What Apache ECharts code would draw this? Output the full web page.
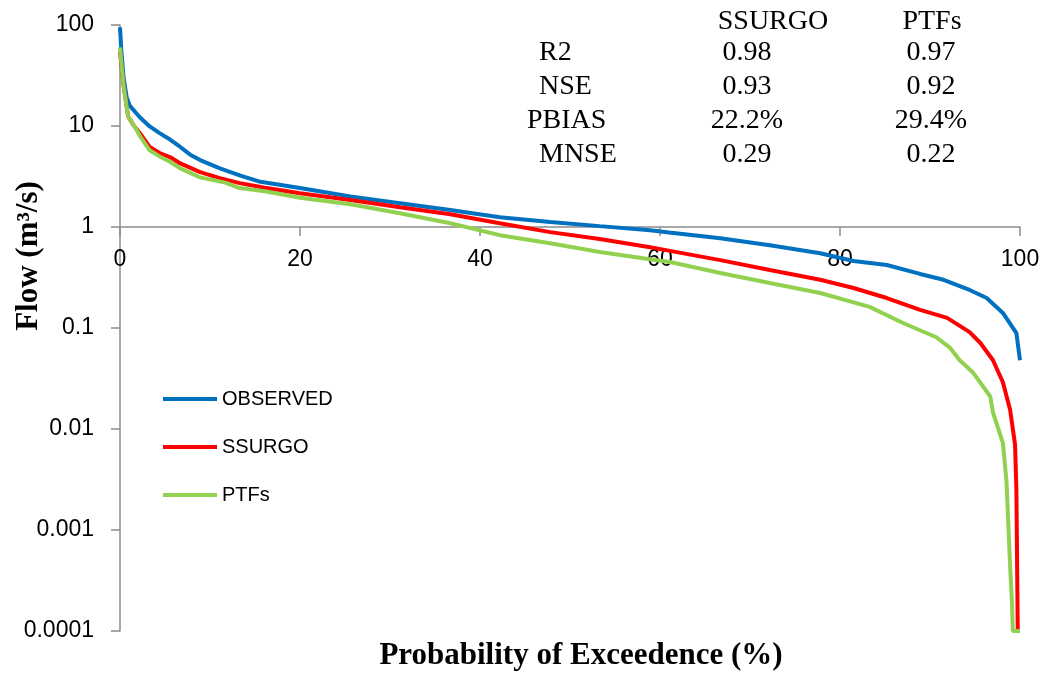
<!DOCTYPE html>
<html>
<head>
<meta charset="utf-8">
<title>Flow duration curves</title>
<script src="https://cdn.jsdelivr.net/npm/echarts@6/dist/echarts.min.js"></script>
<style>
  html, body { margin: 0; padding: 0; background: #ffffff; }
  #chart { width: 1045px; height: 681px; }
</style>
</head>
<body>
<div id="chart"></div>
<script>
// Flow duration curves: observed vs simulated (SSURGO and PTFs soil inputs)
const seriesNames = ['OBSERVED', 'SSURGO', 'PTFs'];

const observedP = [0, 0.15, 0.4, 0.75, 1.1, 2.2, 3.3, 4.4, 5.6, 6.7, 7.8, 8.9, 11.1, 13.3, 15.6, 20, 25.6, 31.1, 36.7, 42.2, 47.8, 53.3, 58.9, 61, 66.7, 72.2, 77.8, 81.5, 85.2, 88.9, 91.5, 94.4, 96.3, 98.1, 99.6, 100];
const observedQ = [95, 55, 30, 19, 15.8, 12.2, 9.9, 8.5, 7.3, 6.2, 5.2, 4.6, 3.8, 3.25, 2.8, 2.43, 2.0, 1.72, 1.47, 1.25, 1.12, 1.02, 0.93, 0.88, 0.775, 0.66, 0.55, 0.46, 0.42, 0.343, 0.30, 0.238, 0.198, 0.141, 0.089, 0.048];

const ssurgoP = [0, 0.15, 0.4, 0.9, 1.5, 2.2, 3.3, 4.4, 5.6, 6.7, 8.9, 11.1, 13.3, 16.1, 20, 25.6, 31.1, 36.7, 42.2, 47.8, 53.3, 58.9, 61.1, 66.7, 72.2, 77.8, 81.5, 85.2, 88.9, 91.9, 94.4, 95.6, 97.0, 98.1, 98.9, 99.45, 99.6, 99.75];
const ssurgoQ = [55, 40, 25, 12.5, 10.2, 8.5, 6.2, 5.4, 4.9, 4.26, 3.5, 3.05, 2.72, 2.45, 2.16, 1.85, 1.57, 1.34, 1.09, 0.89, 0.76, 0.63, 0.58, 0.47, 0.375, 0.30, 0.249, 0.198, 0.151, 0.126, 0.091, 0.071, 0.048, 0.029, 0.0155, 0.007, 0.0025, 0.0001];

const ptfP = [0, 0.15, 0.4, 0.9, 1.1, 1.67, 2.2, 3.3, 4.4, 5.6, 6.7, 8.9, 11.7, 13.3, 16.1, 20, 25.6, 31.1, 36.7, 42.2, 47.8, 53.3, 58.9, 61.1, 66.7, 72.2, 77.8, 83.3, 87.0, 90.7, 92.2, 93.3, 94.8, 96.7, 97.0, 98.1, 98.5, 98.9, 99.1, 99.2, 100];
const ptfQ = [60, 42, 25, 12.5, 12.0, 9.7, 8.0, 5.75, 5.0, 4.4, 3.8, 3.1, 2.75, 2.43, 2.26, 1.95, 1.68, 1.37, 1.09, 0.83, 0.69, 0.565, 0.48, 0.45, 0.35, 0.279, 0.222, 0.162, 0.112, 0.081, 0.064, 0.048, 0.036, 0.021, 0.0145, 0.0073, 0.003, 0.00044, 0.0002, 0.0001, 0.0001];

const xTickLabels = ['0', '20', '40', '60', '80', '100'];
const yTickLabels = ['0.0001', '0.001', '0.01', '0.1', '1', '10', '100'];

// Goodness-of-fit statistics table
const statNames = ['R2', 'NSE', 'PBIAS', 'MNSE'];
const ssurgoStats = ['0.98', '0.93', '22.2%', '0.29'];
const ptfStats = ['0.97', '0.92', '29.4%', '0.22'];

const colors = ['#0070C0', '#FF0000', '#92D050'];
const AXIS_GREY = '#8C8C8C';
const SANS = '"Liberation Sans", Arial, sans-serif';
const SERIF = '"Liberation Serif", "Times New Roman", serif';

function pairs(xs, ys) { return xs.map((x, i) => [x, ys[i]]); }

const chart = echarts.init(document.getElementById('chart'), null, { renderer: 'canvas' });

const statGraphics = [];
const rowY = [53, 87, 121, 154.5];
const rowX = [539, 539, 527, 539];
statGraphics.push({ type: 'text', x: 773, y: 21.5, style: { text: 'SSURGO', font: '28px ' + SERIF, fill: '#000', textAlign: 'center', textVerticalAlign: 'middle' } });
statGraphics.push({ type: 'text', x: 932, y: 21.5, style: { text: 'PTFs', font: '28px ' + SERIF, fill: '#000', textAlign: 'center', textVerticalAlign: 'middle' } });
statNames.forEach((name, i) => {
  statGraphics.push({ type: 'text', x: rowX[i], y: rowY[i], style: { text: name, font: '28px ' + SERIF, fill: '#000', textAlign: 'left', textVerticalAlign: 'middle' } });
  statGraphics.push({ type: 'text', x: 747, y: rowY[i], style: { text: ssurgoStats[i], font: '28px ' + SERIF, fill: '#000', textAlign: 'center', textVerticalAlign: 'middle' } });
  statGraphics.push({ type: 'text', x: 931, y: rowY[i], style: { text: ptfStats[i], font: '28px ' + SERIF, fill: '#000', textAlign: 'center', textVerticalAlign: 'middle' } });
});

const option = {
  animation: false,
  backgroundColor: '#ffffff',
  grid: { left: 120, right: 25, top: 25, bottom: 50, containLabel: false },
  legend: {
    orient: 'vertical',
    left: 163,
    top: 389,
    padding: 0,
    icon: 'rect',
    itemWidth: 54,
    itemHeight: 4,
    itemGap: 28,
    textStyle: { fontFamily: SANS, fontSize: 20, color: '#000', lineHeight: 20 },
    data: seriesNames
  },
  xAxis: {
    type: 'value',
    min: 0,
    max: 100,
    interval: 20,
    position: 'bottom',
    offset: 0,
    axisLine: { show: true, onZero: false, lineStyle: { color: AXIS_GREY, width: 1.5 } },
    axisTick: { show: true, length: 9, lineStyle: { color: AXIS_GREY, width: 1.5 } },
    axisLabel: {
      margin: 21, fontFamily: SANS, fontSize: 23, color: '#000',
      formatter: v => xTickLabels[Math.round(v / 20)]
    },
    splitLine: { show: false }
  },
  yAxis: {
    type: 'log',
    logBase: 10,
    min: 0.0001,
    max: 100,
    axisLine: { show: true, lineStyle: { color: AXIS_GREY, width: 1.5 } },
    axisTick: { show: true, length: 9, lineStyle: { color: AXIS_GREY, width: 1.5 } },
    minorTick: { show: false },
    axisLabel: {
      margin: 26, fontFamily: SANS, fontSize: 23, color: '#000',
      formatter: v => yTickLabels[Math.round(Math.log10(v)) + 4]
    },
    splitLine: { show: false }
  },
  series: [
    { name: seriesNames[0], type: 'line', data: pairs(observedP, observedQ), showSymbol: false, symbol: 'none', color: colors[0], lineStyle: { width: 4, color: colors[0] }, z: 2 },
    { name: seriesNames[1], type: 'line', data: pairs(ssurgoP, ssurgoQ), showSymbol: false, symbol: 'none', color: colors[1], lineStyle: { width: 4, color: colors[1] }, z: 3 },
    { name: seriesNames[2], type: 'line', data: pairs(ptfP, ptfQ), showSymbol: false, symbol: 'none', color: colors[2], lineStyle: { width: 4, color: colors[2] }, z: 4 }
  ],
  graphic: [
    {
      type: 'text', x: 29, y: 256, rotation: Math.PI / 2,
      style: { text: 'Flow (m\u00B3/s)', font: 'bold 31px ' + SERIF, fill: '#000', textAlign: 'center', textVerticalAlign: 'middle' }
    },
    {
      type: 'text', x: 581, y: 656,
      style: { text: 'Probability of Exceedence (%)', font: 'bold 31px ' + SERIF, fill: '#000', textAlign: 'center', textVerticalAlign: 'middle' }
    }
  ].concat(statGraphics)
};

chart.setOption(option);

// Place the probability axis so it crosses the flow axis at 1 m3/s
const yAtOne = chart.convertToPixel({ yAxisIndex: 0 }, 1);
const yAtMin = chart.convertToPixel({ yAxisIndex: 0 }, 0.0001);
chart.setOption({ xAxis: { offset: -(yAtMin - yAtOne) } });
</script>
</body>
</html>
